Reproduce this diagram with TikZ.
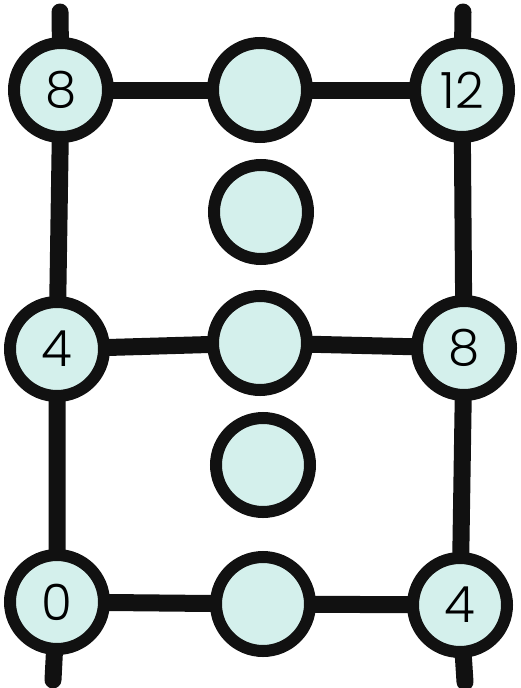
\documentclass[tikz,border=0pt]{standalone}
\usepackage{fontspec}
\setmainfont{Poppins Light}
\usetikzlibrary{backgrounds}
\definecolor{ballfill}{RGB}{212,240,236}
\definecolor{ink}{RGB}{17,17,17}
\tikzset{
  ball/.style={circle, draw=ink, fill=ballfill, line width=12pt, minimum size=94pt, inner sep=0pt, font=\fontsize{50}{50}\selectfont},
  bar/.style={draw=ink, line width=17pt, line cap=round}
}
\begin{document}
\begin{tikzpicture}[x=1pt,y=-1pt]
\useasboundingbox (0,0) rectangle (520,688);
\node[ball] (LT) at (61,90) {8};
\node[ball] (MT) at (260,90) {};
\node[ball] (RT) at (462,90) {12};
\node[ball] (M1) at (261,212) {};
\node[ball] (LM) at (57,349) {4};
\node[ball] (MM) at (260,343) {};
\node[ball] (RM) at (464,348) {8};
\node[ball] (M2) at (263,465) {};
\node[ball] (LB) at (57,602) {0};
\node[ball] (MB) at (263,604) {};
\node[ball] (RB) at (460,605) {4};
\coordinate (LTop) at (60,12);
\coordinate (LBot) at (53,680);
\coordinate (RTop) at (463,12);
\coordinate (RBot) at (465,682);
\begin{scope}[on background layer]
\draw[bar] (LT.center) -- (MT.center) -- (RT.center);
\draw[bar] (LM.center) -- (MM.center) -- (RM.center);
\draw[bar] (LB.center) -- (MB.center) -- (RB.center);
\draw[bar] (LTop) -- (LT.center) -- (LM.center) -- (LB.center) -- (LBot);
\draw[bar] (RTop) -- (RT.center) -- (RM.center) -- (RB.center) -- (RBot);
\end{scope}
\end{tikzpicture}
\end{document}
